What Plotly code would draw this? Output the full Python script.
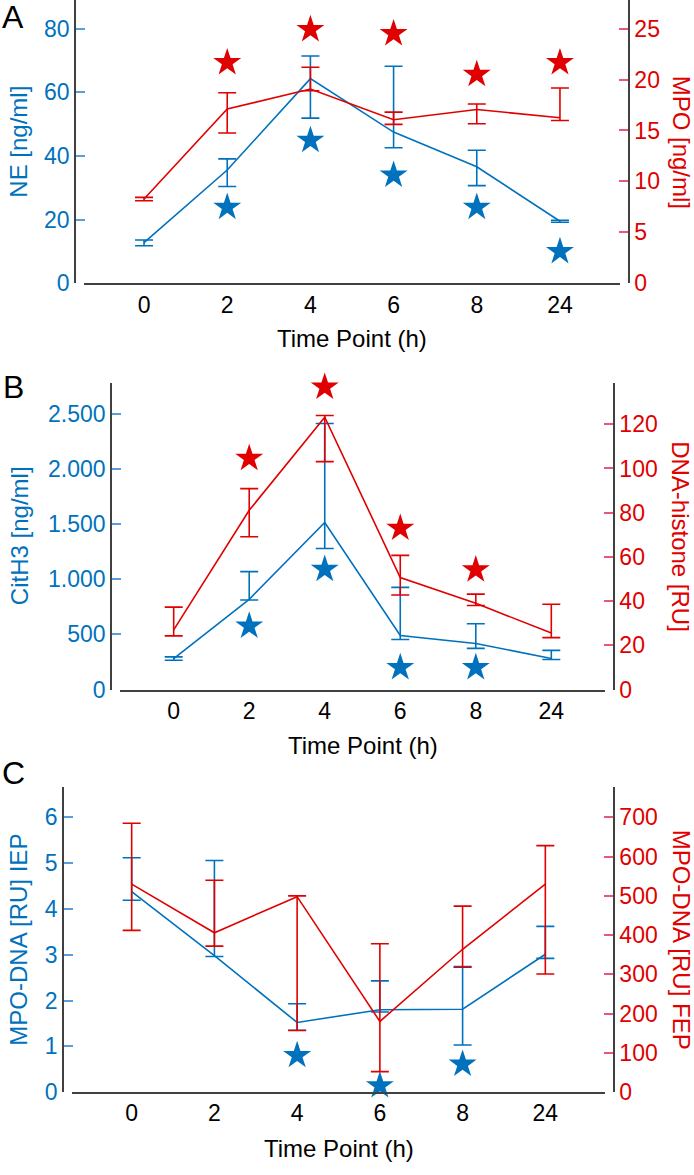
import plotly.graph_objects as go

W, H = 694, 1175
BLUE = "#0072BD"
RED = "#E00000"
AXC = "#404040"
FONT = "Liberation Sans, Arial, sans-serif"

categories = ["0", "2", "4", "6", "8", "24"]

# Panel A
ne_mean = [12.8, 35.6, 64.3, 47.5, 36.6, 19.5]
ne_upper = [13.6, 39.1, 71.4, 68.2, 41.8, 19.8]
ne_lower = [11.8, 30.4, 51.9, 42.6, 30.7, 19.2]
ne_star = [None, 23.9, 44.9, 34.0, 23.9, 10.0]
mpo_mean = [8.27, 17.1, 19.07, 16.05, 17.05, 16.25]
mpo_upper = [8.43, 18.7, 21.2, 16.8, 17.6, 19.17]
mpo_lower = [8.1, 14.75, 18.9, 15.6, 15.66, 15.97]
mpo_star = [None, 21.66, 24.9, 24.5, 20.5, 21.66]

# Panel B
cit_mean = [281, 818, 1514, 490, 418, 281]
cit_upper = [296, 1069, 2410, 926, 597, 355]
cit_lower = [266, 812, 1278, 454, 373, 272]
cit_star = [None, 576, 1090, 200, 200, None]
dna_mean = [27, 81.1, 123.2, 50.7, 39, 25.6]
dna_upper = [37.3, 90.9, 124.0, 60.7, 43.2, 38.6]
dna_lower = [24.3, 69.1, 103.1, 42.8, 38, 23.5]
dna_star = [None, 104.6, 136.8, 73, 54.2, None]

# Panel C
iep_mean = [4.38, 2.98, 1.52, 1.80, 1.81, 3.01]
iep_upper = [5.12, 5.06, 1.93, 2.43, 2.74, 3.62]
iep_lower = [4.19, 2.96, 1.35, 1.75, 1.03, 2.92]
iep_star = [None, None, 0.8, 0.14, 0.61, None]
fep_mean = [530, 406, 498, 180, 364, 530]
fep_upper = [685, 540, 500, 378, 474, 628]
fep_lower = [412, 372, 157, 52, 318, 301]

# tick labels
a_left_ticks = [0, 20, 40, 60, 80]
a_right_ticks = [0, 5, 10, 15, 20, 25]
b_left_ticks = [0, 500, 1000, 1500, 2000, 2500]
b_left_text = ["0", "500", "1.000", "1.500", "2.000", "2.500"]
b_right_ticks = [0, 20, 40, 60, 80, 100, 120]
c_left_ticks = [0, 1, 2, 3, 4, 5, 6]
c_right_ticks = [0, 100, 200, 300, 400, 500, 600, 700]

x_idx = list(range(len(categories)))

# panel geometry in px: left axis, right axis, top, bottom, y ranges
panels = [
    dict(L=75, R=629, top=0, bot=286.5, yl=[0, 89.0], yr=[0, 27.8],
         lt=a_left_ticks, ltt=None, rt=a_right_ticks,
         ltitle="NE [ng/ml]", rtitle="MPO [ng/ml]", label="A", labely=17.5,
         tl=304, tt=342),
    dict(L=111, R=614, top=387, bot=697.3, yl=[0, 2780], yr=[0, 138.8],
         lt=b_left_ticks, ltt=b_left_text, rt=b_right_ticks,
         ltitle="CitH3 [ng/ml]", rtitle="DNA-histone [RU]", label="B", labely=391,
         tl=716, tt=754),
    dict(L=63, R=614, top=796, bot=1104.3, yl=[0, 6.66], yr=[0, 777],
         lt=c_left_ticks, ltt=None, rt=c_right_ticks,
         ltitle="MPO-DNA [RU] IEP", rtitle="MPO-DNA [RU] FEP", label="C", labely=782,
         tl=1122, tt=1161),
]

series = [
    (ne_mean, ne_upper, ne_lower, ne_star, mpo_mean, mpo_upper, mpo_lower, mpo_star),
    (cit_mean, cit_upper, cit_lower, cit_star, dna_mean, dna_upper, dna_lower, dna_star),
    (iep_mean, iep_upper, iep_lower, iep_star, fep_mean, fep_upper, fep_lower, None),
]

TICKSZ = 23
TITLESZ = 24

fig = go.Figure()
layout = {}
annotations = []
CAT_LO, CAT_HI = -0.83, 5.83
GAP = 9

for k, (p, s) in enumerate(zip(panels, series)):
    n = k + 1
    xa = "x" if n == 1 else f"x{n}"
    yl = f"y{2*n-1}" if n > 1 else "y"
    yr = f"y{2*n}"
    pc = (p["R"] - p["L"]) / (CAT_HI - CAT_LO)
    xdom = [(p["L"] + GAP) / W, (p["R"] - GAP) / W]
    xrange = [CAT_LO + GAP / pc, CAT_HI - GAP / pc]
    ydom = [1 - p["bot"] / H, 1 - p["top"] / H]

    xkey = "xaxis" if n == 1 else f"xaxis{n}"
    ylkey = "yaxis" if n == 1 else f"yaxis{2*n-1}"
    yrkey = f"yaxis{2*n}"

    layout[xkey] = dict(domain=xdom, range=xrange, anchor=yl,
                        tickmode="array", tickvals=x_idx, ticktext=categories,
                        showline=True, linecolor=AXC, linewidth=1.5,
                        ticks="", showgrid=False, zeroline=False,
                        tickfont=dict(size=TICKSZ, color="black", family=FONT))
    layout[ylkey] = dict(domain=ydom, range=p["yl"], anchor="free",
                         position=p["L"] / W, side="left",
                         tickmode="array", tickvals=p["lt"],
                         ticktext=p["ltt"] if p["ltt"] else [str(v) for v in p["lt"]],
                         ticks="inside", ticklen=9, tickwidth=1.5, tickcolor="#5A9FDA",
                         showline=True, linecolor=AXC, linewidth=1.5,
                         showgrid=False, zeroline=False,
                         tickfont=dict(size=TICKSZ, color=BLUE, family=FONT))
    layout[yrkey] = dict(domain=ydom, range=p["yr"], anchor="free",
                         position=p["R"] / W, side="right", overlaying=yl,
                         tickmode="array", tickvals=p["rt"],
                         ticks="inside", ticklen=9, tickwidth=1.5, tickcolor="#E8567A",
                         showline=True, linecolor=AXC, linewidth=1.5,
                         showgrid=False, zeroline=False,
                         tickfont=dict(size=TICKSZ, color=RED, family=FONT))

    bm, bu, bl, bs, rm, ru, rl, rs = s
    fig.add_trace(go.Scatter(
        x=x_idx, y=bm, mode="lines", xaxis=xa, yaxis=yl,
        line=dict(color=BLUE, width=1.6),
        error_y=dict(type="data", symmetric=False,
                     array=[u - m for u, m in zip(bu, bm)],
                     arrayminus=[m - l for m, l in zip(bm, bl)],
                     color=BLUE, thickness=1.6, width=9),
        showlegend=False, hoverinfo="skip"))
    fig.add_trace(go.Scatter(
        x=x_idx, y=rm, mode="lines", xaxis=xa, yaxis=yr,
        line=dict(color=RED, width=1.6),
        error_y=dict(type="data", symmetric=False,
                     array=[u - m for u, m in zip(ru, rm)],
                     arrayminus=[m - l for m, l in zip(rm, rl)],
                     color=RED, thickness=1.6, width=9),
        showlegend=False, hoverinfo="skip"))
    if bs is not None:
        fig.add_trace(go.Scatter(
            x=x_idx, y=bs, mode="markers", xaxis=xa, yaxis=yl,
            marker=dict(symbol="star", size=21, color=BLUE, line=dict(width=0)),
            cliponaxis=False, showlegend=False, hoverinfo="skip"))
    if rs is not None:
        fig.add_trace(go.Scatter(
            x=x_idx, y=rs, mode="markers", xaxis=xa, yaxis=yr,
            marker=dict(symbol="star", size=21, color=RED, line=dict(width=0)),
            cliponaxis=False, showlegend=False, hoverinfo="skip"))

    ymid = 1 - (p["top"] + p["bot"]) / 2 / H
    annotations.append(dict(text=p["ltitle"], x=19 / W, y=ymid, xref="paper", yref="paper",
                            textangle=-90, showarrow=False, xanchor="center", yanchor="middle",
                            font=dict(size=TITLESZ, color=BLUE, family=FONT)))
    annotations.append(dict(text=p["rtitle"], x=681 / W, y=ymid, xref="paper", yref="paper",
                            textangle=90, showarrow=False, xanchor="center", yanchor="middle",
                            font=dict(size=TITLESZ, color=RED, family=FONT)))
    annotations.append(dict(text=p["label"], x=13 / W, y=1 - p["labely"] / H,
                            xref="paper", yref="paper", showarrow=False,
                            xanchor="center", yanchor="middle",
                            font=dict(size=32, color="black", family=FONT)))
    annotations.append(dict(text="Time Point (h)", x=(p["L"] + p["R"]) / 2 / W,
                            y=1 - p["tt"] / H, xref="paper", yref="paper", showarrow=False,
                            xanchor="center", yanchor="middle",
                            font=dict(size=TITLESZ, color="black", family=FONT)))

fig.update_layout(
    width=W, height=H, margin=dict(l=0, r=0, t=0, b=0),
    paper_bgcolor="white", plot_bgcolor="white",
    annotations=annotations, **layout)

fig.write_html("out.html", config={"displayModeBar": False},
               post_script="document.body.style.margin='0';document.body.style.padding='0';")
